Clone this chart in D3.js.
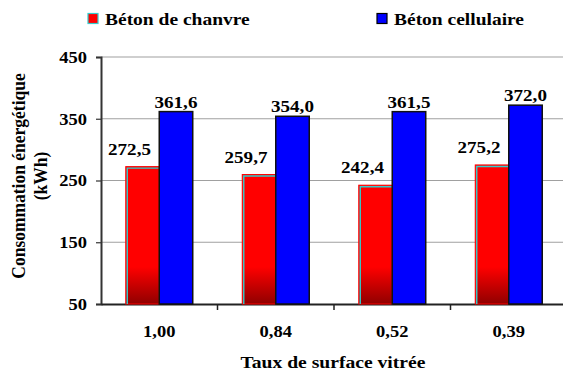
<!DOCTYPE html>
<html><head><meta charset="utf-8">
<script src="https://cdn.jsdelivr.net/npm/d3@7"></script>
<style>
body{margin:0;background:#fff;}
text{font-family:"Liberation Serif","Times New Roman",serif;font-weight:bold;fill:#000;}
</style></head>
<body><svg id="c" width="563" height="374"></svg>
<script>
const categories = ["1,00","0,84","0,52","0,39"];
const chanvre = [272.5, 259.7, 242.4, 275.2];
const cellulaire = [361.6, 354.0, 361.5, 372.0];
const seriesNames = ["Béton de chanvre","Béton cellulaire"];
const yTicks = [50,150,250,350,450];
const fmt = v => d3.format(".1f")(v).replace(".", ",");

const svg = d3.select("#c");
const pLeft = 101, pRight = 567, pTop = 57, pBottom = 304;
const x = d3.scaleBand().domain(categories).range([pLeft, pRight]).paddingInner(0).paddingOuter(0);
const y = d3.scaleLinear().domain([50,450]).range([pBottom, pTop]);
const inner = d3.scaleBand().domain([0,1]).range([0, x.bandwidth()*0.575]);
const off = (x.bandwidth() - x.bandwidth()*0.575)/2;
const STRETCH = 1.12;
function stretch(sel){
  sel.each(function(){
    const L = this.getComputedTextLength();
    this.setAttribute("textLength", L*STRETCH);
    this.setAttribute("lengthAdjust","spacingAndGlyphs");
  });
}

const defs = svg.append("defs");
const g = defs.append("linearGradient").attr("id","rg").attr("gradientUnits","userSpaceOnUse")
  .attr("x1",0).attr("x2",0).attr("y1",y(110)).attr("y2",pBottom);
g.append("stop").attr("offset",0).attr("stop-color","#ff0000");
g.append("stop").attr("offset",1).attr("stop-color","#900000");

// grid
svg.append("g").selectAll("line").data(yTicks.filter(t=>t>50)).join("line")
  .attr("x1",pLeft).attr("x2",563).attr("y1",d=>y(d)).attr("y2",d=>y(d))
  .attr("stroke","#a0a0a0").attr("stroke-width",1.2);

// y axis
const ya = svg.append("g").attr("transform",`translate(${pLeft},0)`)
  .call(d3.axisLeft(y).tickValues(yTicks).tickSize(5).tickPadding(9).tickFormat(d3.format("d")));
ya.attr("font-family",null).attr("font-size",null);
ya.select(".domain").attr("stroke","#333").attr("stroke-width",2);
ya.selectAll(".tick line").attr("stroke","#333").attr("stroke-width",1.2);
ya.selectAll("text").attr("font-size","16.5px").attr("fill","#000").call(stretch);

// x axis
const xa = svg.append("g").attr("transform",`translate(0,${pBottom})`)
  .call(d3.axisBottom(x).tickSize(0).tickPadding(21));
xa.attr("font-family",null).attr("font-size",null);
xa.select(".domain").attr("stroke","#222").attr("stroke-width",2);
xa.selectAll("text").attr("font-size","16.5px").attr("fill","#000").call(stretch);
// category boundary ticks
svg.append("g").selectAll("line").data(categories.slice(1)).join("line")
  .attr("x1",d=>x(d)).attr("x2",d=>x(d)).attr("y1",pBottom).attr("y2",pBottom+6)
  .attr("stroke","#222").attr("stroke-width",1.5);

// bars
const red = svg.append("g");
red.selectAll("rect.o").data(chanvre).join("rect")
  .attr("x",(d,i)=>x(categories[i])+off+inner(0))
  .attr("y",d=>y(d)).attr("width",inner.bandwidth()).attr("height",d=>pBottom-y(d))
  .attr("fill","url(#rg)").attr("stroke","#ff0000").attr("stroke-width",1);
red.selectAll("path.t").data(chanvre).join("path")
  .attr("d",(d,i)=>{const x0=x(categories[i])+off+inner(0)+1.5, y0=y(d)+1.5;
    return `M${x0},${pBottom}V${y0}H${x0+inner.bandwidth()-2}`;})
  .attr("fill","none").attr("stroke","#33cccc").attr("stroke-width",1.4);

svg.append("g").selectAll("rect").data(cellulaire).join("rect")
  .attr("x",(d,i)=>x(categories[i])+off+inner(1))
  .attr("y",d=>y(d)).attr("width",inner.bandwidth()).attr("height",d=>pBottom-y(d))
  .attr("fill","#0000ff").attr("stroke","#111").attr("stroke-width",1.5);

// value labels
svg.append("g").selectAll("text").data(chanvre).join("text")
  .attr("x",(d,i)=>x(categories[i])+off+inner(0)+inner.bandwidth()/2-13)
  .attr("y",d=>y(d)-12).attr("text-anchor","middle").attr("font-size","17px")
  .text(fmt).call(stretch);
svg.append("g").selectAll("text").data(cellulaire).join("text")
  .attr("x",(d,i)=>x(categories[i])+off+inner(1)+inner.bandwidth()/2)
  .attr("y",d=>y(d)-4).attr("text-anchor","middle").attr("font-size","17px")
  .text(fmt).call(stretch);

// axis titles
svg.append("text").attr("x",333).attr("y",368).attr("text-anchor","middle")
  .attr("font-size","17.5px").text("Taux de surface vitrée").call(stretch);
const yt = svg.append("text").attr("transform",`translate(25,176) scale(${STRETCH},1) rotate(-90)`).attr("text-anchor","middle")
  .attr("font-size","17.5px");
yt.append("tspan").attr("x",0).attr("y",0).text("Consommation énergétique");
yt.append("tspan").attr("x",0).attr("y",22/STRETCH).text("(kWh)");

// legend
const leg = [{name:seriesNames[0],fill:"#ff0000",stroke:"#33cccc",x:88},{name:seriesNames[1],fill:"#0000ff",stroke:"#000",x:377}];
const lg = svg.append("g").selectAll("g").data(leg).join("g").attr("transform",d=>`translate(${d.x},13.5)`);
lg.append("rect").attr("width",10).attr("height",10).attr("fill",d=>d.fill).attr("stroke",d=>d.stroke).attr("stroke-width",1.2);
lg.append("text").attr("x",17).attr("y",11.5).attr("font-size","17.4px").text(d=>d.name).call(stretch);
</script></body></html>
